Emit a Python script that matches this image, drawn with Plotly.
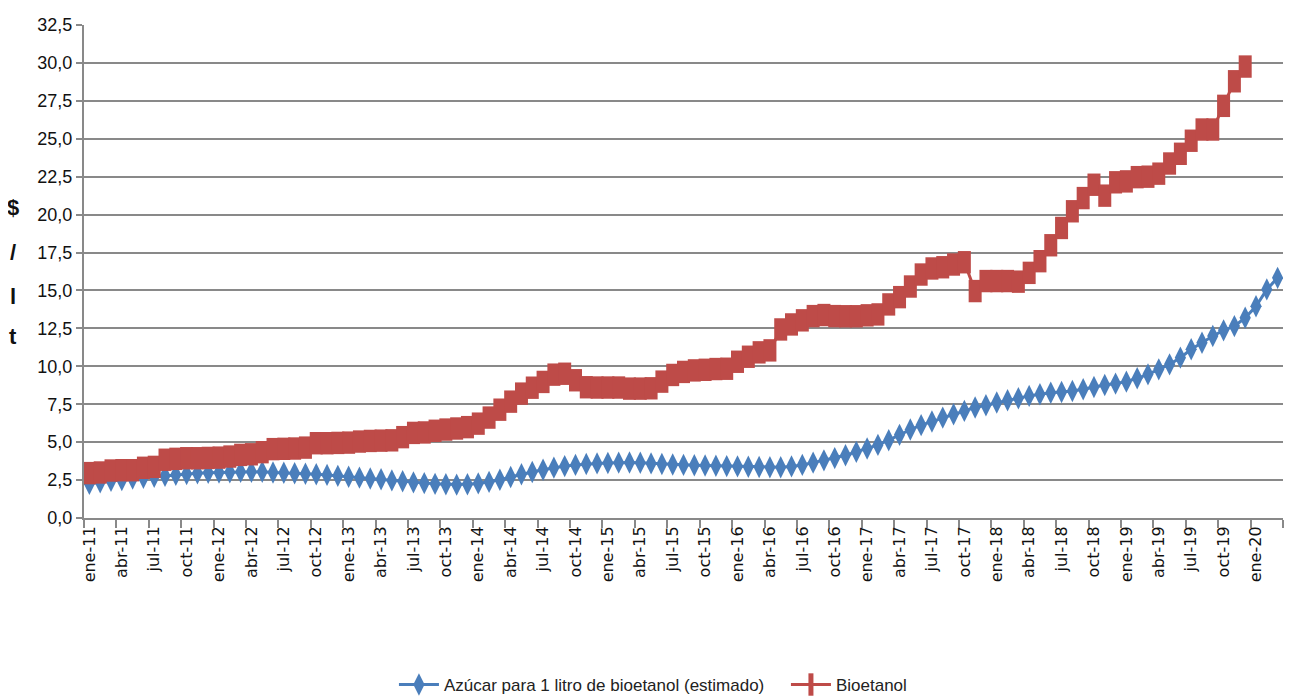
import plotly.graph_objects as go

meses = ["ene", "feb", "mar", "abr", "may", "jun", "jul", "ago", "sep", "oct", "nov", "dic"]
anios = list(range(11, 21))
fechas = [f"{m}-{a:02d}" for a in anios for m in meses][:111]

azucar = [
    2.25, 2.35, 2.45, 2.5, 2.6, 2.65, 2.72, 2.78, 2.85, 2.9,
    2.95, 2.98, 3.0, 3.02, 3.04, 3.05, 3.05, 3.0, 2.98, 2.95,
    2.92, 2.88, 2.84, 2.78, 2.72, 2.66, 2.6, 2.55, 2.48, 2.42,
    2.35, 2.3, 2.25, 2.22, 2.2, 2.22, 2.28, 2.38, 2.52, 2.7,
    2.88, 3.03, 3.18, 3.32, 3.42, 3.5, 3.56, 3.6, 3.63, 3.65,
    3.66, 3.64, 3.6, 3.56, 3.53, 3.5, 3.48, 3.46, 3.44, 3.42,
    3.4, 3.38, 3.36, 3.35, 3.35, 3.4, 3.5, 3.65, 3.8, 3.95,
    4.14, 4.36, 4.58, 4.82, 5.13, 5.48, 5.83, 6.12, 6.36, 6.62,
    6.84, 7.06, 7.28, 7.43, 7.61, 7.76, 7.89, 8.05, 8.16, 8.26,
    8.31, 8.37, 8.49, 8.64, 8.77, 8.86, 8.99, 9.21, 9.47, 9.8,
    10.13, 10.57, 11.12, 11.55, 12.0, 12.37, 12.65, 13.2, 13.96, 15.07, 15.83,
]

bioetanol = [
    2.96, 3.0, 3.13, 3.15, 3.15, 3.31, 3.37, 3.84, 3.9, 3.94,
    3.94, 3.96, 3.98, 4.05, 4.16, 4.2, 4.34, 4.54, 4.56, 4.58,
    4.64, 4.93, 4.93, 4.95, 4.97, 5.04, 5.08, 5.1, 5.12, 5.33,
    5.61, 5.64, 5.75, 5.83, 5.9, 5.99, 6.22, 6.62, 7.14, 7.67,
    8.2, 8.59, 8.97, 9.45, 9.51, 9.08, 8.62, 8.6, 8.6, 8.6,
    8.53, 8.53, 8.55, 8.99, 9.43, 9.63, 9.73, 9.77, 9.82, 9.84,
    10.3, 10.63, 10.92, 11.05, 12.43, 12.76, 13.03, 13.31, 13.38, 13.31,
    13.3, 13.3, 13.36, 13.42, 14.08, 14.56, 15.26, 16.05, 16.45, 16.53,
    16.71, 16.86, 14.96, 15.62, 15.62, 15.62, 15.58, 16.16, 16.93, 17.98,
    19.12, 20.22, 21.09, 21.97, 21.25, 22.13, 22.19, 22.47, 22.5, 22.7,
    23.37, 24.01, 24.87, 25.61, 25.61, 27.17, 28.79, 29.76,
]

titulo_y = ["$", "/", "l", "t"]

AZUL = "#4A7EBB"
ROJO = "#BE4B48"
GRIS = "#898989"
FUENTE = "Liberation Sans, Arial, sans-serif"

fig = go.Figure()
fig.add_trace(go.Scatter(
    x=fechas[:len(azucar)], y=azucar, mode="lines+markers",
    name="Azúcar para 1 litro de bioetanol (estimado)",
    line=dict(color=AZUL, width=3),
    marker=dict(symbol="diamond-tall", size=16, color=AZUL, line=dict(width=0)),
))
fig.add_trace(go.Scatter(
    x=fechas[:len(bioetanol)], y=bioetanol, mode="lines+markers",
    name="Bioetanol",
    line=dict(color=ROJO, width=3),
    marker=dict(symbol="line-ns", size=16, color=ROJO, line=dict(width=13, color=ROJO)),
))

# page body has an 8px margin: figure offset by 8px, sized to reach the window edges
fig.update_layout(
    width=1286, height=691,
    margin=dict(l=76, r=11, t=17, b=181),
    paper_bgcolor="white", plot_bgcolor="white",
    separators=",.",
    showlegend=True,
    legend=dict(orientation="h", x=0.2585, xanchor="left",
                y=0.0203, yref="container", yanchor="middle",
                font=dict(family=FUENTE, size=17, color="#222"),
                itemwidth=40, tracegroupgap=0, entrywidth=337, entrywidthmode="pixels"),
)
fig.update_xaxes(
    type="category", categoryorder="array", categoryarray=fechas,
    range=[-0.5, len(fechas) - 0.5], automargin=False,
    tick0=0, dtick=3, tickson="boundaries",
    ticks="outside", ticklen=8, tickwidth=1.5, tickcolor=GRIS,
    tickangle=-90, tickfont=dict(family="DejaVu Sans", size=16, color="#111"),
    showline=True, linecolor=GRIS, linewidth=2, showgrid=False, zeroline=False,
)
fig.update_yaxes(
    range=[0, 32.5], dtick=2.5, tick0=0, tickformat=".1f", automargin=False,
    ticks="outside", ticklen=6, tickwidth=1.5, tickcolor=GRIS,
    tickfont=dict(family=FUENTE, size=18, color="#111"),
    showline=True, linecolor=GRIS, linewidth=2,
    showgrid=True, gridcolor=GRIS, gridwidth=2, zeroline=False,
)
pos_y = [0.629, 0.538, 0.449, 0.368]
for txt, py in zip(titulo_y, pos_y):
    fig.add_annotation(text=f"<b>{txt}</b>", x=-0.059, y=py, xref="paper", yref="paper",
                       showarrow=False, xanchor="center", yanchor="middle",
                       font=dict(family=FUENTE, size=22, color="#111"))

fig.write_html("out.html")
